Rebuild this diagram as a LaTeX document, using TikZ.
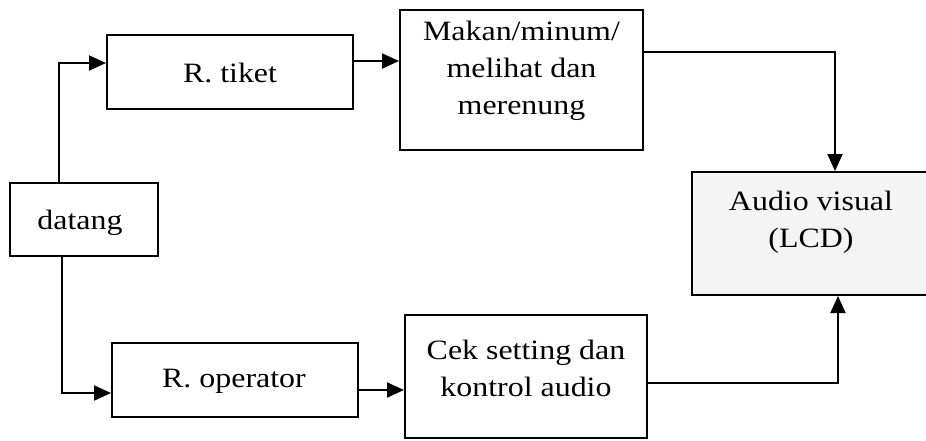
\documentclass[tikz,border=0pt]{standalone}
\usepackage{fontspec}
\setmainfont{Liberation Serif}[FakeStretch=1.14]
\usetikzlibrary{arrows.meta}
\begin{document}
\begin{tikzpicture}[x=0.5pt,y=-0.5pt,
  box/.style={draw=black,line width=1pt,inner sep=0pt},
  txt/.style={align=center,inner sep=0pt,font=\fontsize{14}{18.5}\selectfont},
  arr/.style={line width=1pt,-{Triangle[length=8.5pt,width=7.5pt]}}]
\useasboundingbox (0,0) rectangle (926,440);
\clip (0,0) rectangle (926,440);
% boxes
\node[box,minimum width=74pt,minimum height=36.5pt] (datang) at (84,219.5) {};
\node[txt] (datangt) at (80,223) {datang};
\node[box,minimum width=123pt,minimum height=37pt] (tiket) at (230,72) {};
\node[txt] (tikett) at (230,73) {R. tiket};
\node[box,minimum width=121.5pt,minimum height=70pt] (makan) at (521.5,80) {};
\node[txt] (makant) at (521.5,71) {Makan/minum/\\melihat dan\\merenung};
\node[box,fill=gray!9,minimum width=119pt,minimum height=61.5pt] (audio) at (811,233.5) {};
\node[txt] (audiot) at (811,222) {Audio visual\\(LCD)};
\node[box,minimum width=123pt,minimum height=37pt] (oper) at (235,380) {};
\node[txt] (opert) at (234,381) {R. operator};
\node[box,minimum width=121pt,minimum height=61.5pt] (cek) at (526,376.5) {};
\node[txt] (cekt) at (526,368) {Cek setting dan\\kontrol audio};
% routing coordinates
\coordinate (c1) at (59,63);
\coordinate (c2) at (0,61);
\coordinate (c3) at (835,52);
\coordinate (c4) at (62,393);
\coordinate (c5) at (0,390);
\coordinate (c6) at (838,383);
% connectors
\draw[arr] (datang.north -| c1) |- (tiket.west |- c1);
\draw[arr] (tiket.east |- c2) -- (makan.west |- c2);
\draw[arr] (makan.east |- c3) -| (audio.north -| c3);
\draw[arr] (datang.south -| c4) |- (oper.west |- c4);
\draw[arr] (oper.east |- c5) -- (cek.west |- c5);
\draw[arr] (cek.east |- c6) -| (audio.south -| c6);
\end{tikzpicture}
\end{document}
